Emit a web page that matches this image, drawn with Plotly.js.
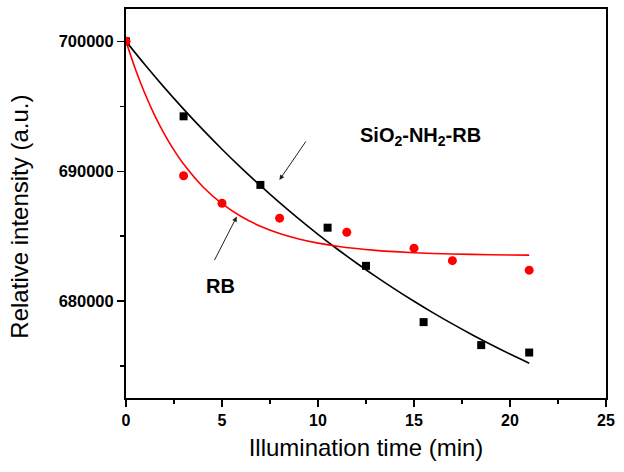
<!DOCTYPE html>
<html>
<head>
<meta charset="utf-8">
<script src="https://cdn.plot.ly/plotly-3.0.1.min.js"></script>
<style>html,body{margin:0;padding:0;background:#fff;}#chart{width:624px;height:472px;}</style>
</head>
<body>
<div id="chart"></div>
<script>
// Measured data points
const sioTime = [0, 3, 7, 10.5, 12.5, 15.5, 18.5, 21];
const sioIntensity = [700000, 694230, 688950, 685660, 682720, 678390, 676620, 676050];
const rbTime = [0, 3, 5, 8, 11.5, 15, 17, 21];
const rbIntensity = [700000, 689660, 687540, 686390, 685310, 684080, 683120, 682390];

// Fitted curves
const sioFitTime = [0,1,2,3,4,5,6,7,8,9,10,11,12,13,14,15,16,17,18,19,20,21];
const sioFitIntensity = [700000,698176,696438,694784,693203,691696,690259,688892,687584,686338,685151,684019,682940,681911,680933,679997,679105,678254,677443,676670,675932,675230];
const rbFitTime = [0,0.5,1,1.5,2,2.5,3,4,5,6,7,8,9,10,11,12,13,14,15,16,17,18,19,20,21];
const rbFitIntensity = [700000,697820,695930,694288,692864,691627,690553,688813,687503,686515,685771,685211,684789,684471,684231,684051,683915,683813,683735,683677,683634,683601,683576,683557,683543];

const xTicks = [0, 5, 10, 15, 20, 25];
const yTicks = [680000, 690000, 700000];

const FONT = 'Arial, "Liberation Sans", sans-serif';

const traces = [
  {x: sioFitTime, y: sioFitIntensity, mode: 'lines', line: {color: '#000', width: 1.6, shape: 'spline'}, hoverinfo: 'skip'},
  {x: rbFitTime, y: rbFitIntensity, mode: 'lines', line: {color: '#ff0000', width: 1.6, shape: 'spline'}, hoverinfo: 'skip'},
  {x: sioTime, y: sioIntensity, mode: 'markers', marker: {symbol: 'square', size: 8, color: '#000'}},
  {x: rbTime, y: rbIntensity, mode: 'markers', marker: {symbol: 'circle', size: 9, color: '#ff0000'}}
];

const layout = {
  width: 624, height: 472,
  margin: {l: 126, r: 18, t: 9, b: 74},
  paper_bgcolor: '#fff', plot_bgcolor: '#fff',
  showlegend: false,
  font: {family: FONT, color: '#000'},
  xaxis: {
    range: [0, 25], tickvals: xTicks, ticktext: xTicks.map(String),
    showgrid: false, zeroline: false,
    showline: true, linecolor: '#000', linewidth: 2, mirror: true,
    ticks: 'outside', ticklen: 7, tickwidth: 1.5, tickcolor: '#000',
    minor: {dtick: 2.5, ticks: 'outside', ticklen: 4, tickwidth: 1.5, tickcolor: '#000', showgrid: false},
    tickfont: {family: FONT, size: 16, color: '#000', weight: 'bold'},
    title: {text: 'Illumination time (min)', font: {family: FONT, size: 24, color: '#000'}, standoff: 11}
  },
  yaxis: {
    range: [672550, 702490], tickvals: yTicks, ticktext: yTicks.map(String),
    showgrid: false, zeroline: false,
    showline: true, linecolor: '#000', linewidth: 2, mirror: true,
    ticks: 'outside', ticklen: 7, tickwidth: 1.5, tickcolor: '#000',
    minor: {dtick: 5000, tick0: 0, ticks: 'outside', ticklen: 4, tickwidth: 1.5, tickcolor: '#000', showgrid: false},
    tickfont: {family: FONT, size: 16.5, color: '#000', weight: 'bold'}
  },
  annotations: [
    {x: -0.221, y: 0.466, xref: 'paper', yref: 'paper', xanchor: 'center', yanchor: 'middle',
     textangle: -90, showarrow: false, text: 'Relative intensity (a.u.)',
     font: {family: FONT, size: 24, color: '#000'}},
    {x: 7.99, y: 689330, ax: 9.42, ay: 692410, xref: 'x', yref: 'y', axref: 'x', ayref: 'y',
     showarrow: true, arrowhead: 2, arrowsize: 1, arrowwidth: 1, arrowcolor: '#222', text: ''},
    {x: 5.77, y: 686510, ax: 4.57, ay: 683050, xref: 'x', yref: 'y', axref: 'x', ayref: 'y',
     showarrow: true, arrowhead: 2, arrowsize: 1, arrowwidth: 1, arrowcolor: '#222', text: ''},
    {x: 15.33, y: 692640, xref: 'x', yref: 'y', showarrow: false,
     text: 'SiO<sub>2</sub>-NH<sub>2</sub>-RB', font: {family: FONT, size: 20, color: '#000', weight: 'bold'}},
    {x: 4.9, y: 681180, xref: 'x', yref: 'y', showarrow: false,
     text: 'RB', font: {family: FONT, size: 20, color: '#000', weight: 'bold'}}
  ]
};

Plotly.newPlot('chart', traces, layout, {staticPlot: true, displayModeBar: false});
</script>
</body>
</html>
